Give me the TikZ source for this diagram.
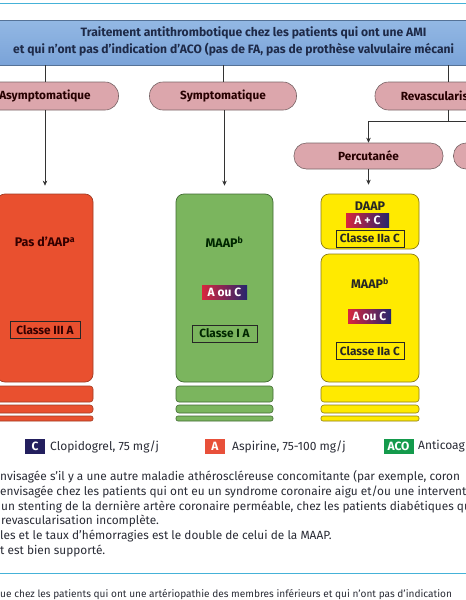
\documentclass[tikz,border=0pt]{standalone}
\usepackage{fontspec}
\setmainfont{Fira Sans}
\usetikzlibrary{arrows.meta,calc}
\definecolor{topline}{HTML}{45B2D8}
\definecolor{hdrtop}{HTML}{93B8E4}
\definecolor{hdrbot}{HTML}{7AA3D8}
\definecolor{hdrtext}{HTML}{1E2A48}
\definecolor{pillfill}{HTML}{DCA6AC}
\definecolor{pilldraw}{HTML}{7A6668}
\definecolor{redfill}{HTML}{E9502F}
\definecolor{reddraw}{HTML}{A03A22}
\definecolor{greenfill}{HTML}{7BB55E}
\definecolor{greendraw}{HTML}{416B33}
\definecolor{yellowfill}{HTML}{FFEA00}
\definecolor{yellowdraw}{HTML}{8C7C14}
\definecolor{badgered}{HTML}{D8263E}
\definecolor{badgenavy}{HTML}{26266E}
\definecolor{legnavy}{HTML}{231F5E}
\definecolor{legred}{HTML}{E8503A}
\definecolor{leggreen}{HTML}{149A4C}
\definecolor{bodytext}{HTML}{2A2C36}
\tikzset{
  hdrbox/.style={rectangle, draw=hdrbot!70!black, top color=hdrtop, bottom color=hdrbot, line width=0.6pt},
  hdrtxt/.style={font=\fontsize{12.1}{14}\selectfont\bfseries, text=hdrtext, inner sep=0pt},
  pill/.style={rectangle, rounded corners=13.5pt, draw=pilldraw, fill=pillfill, line width=0.6pt,
    minimum width=147pt, minimum height=28pt, inner sep=0pt,
    font=\fontsize{11.8}{14}\selectfont\bfseries, text=black!85!red},
  bigbox/.style={rectangle, rounded corners=8pt, line width=0.7pt, inner sep=0pt},
  barbox/.style={rectangle, rounded corners=3pt, line width=0.6pt, inner sep=0pt},
  boxtxt/.style={font=\fontsize{12.5}{14}\selectfont\bfseries, inner sep=0pt},
  classe/.style={rectangle, draw=black!85, line width=0.6pt, inner sep=0pt, minimum height=17pt,
    font=\fontsize{11.8}{13}\selectfont\bfseries},
  badge/.style={rectangle, left color=badgered, right color=badgenavy, inner sep=0pt,
    minimum height=14pt, text=white, font=\fontsize{12}{13}\selectfont\bfseries},
  legsq/.style={rectangle, inner sep=0pt, minimum height=15pt, text=white,
    font=\fontsize{12}{13}\selectfont\bfseries},
  legtxt/.style={anchor=west, inner sep=0pt, text=bodytext, font=\fontsize{12}{14}\selectfont},
  fntxt/.style={anchor=west, inner sep=0pt, text=bodytext, font=\fontsize{11.85}{14}\selectfont},
  conn/.style={draw=black!80, line width=0.6pt},
  arr/.style={conn, -{Stealth[length=5pt,width=4.5pt]}},
}
\begin{document}
\begin{tikzpicture}[x=1pt,y=-1pt]
\useasboundingbox (0,0) rectangle (466,600);
\clip (0,0) rectangle (466,600);
\fill[white] (0,0) rectangle (466,600);
% top and bottom rules
\draw[topline, line width=1pt] (0,3.5) -- (466,3.5);
\draw[topline, line width=1pt] (0,573) -- (466,573);
% header
\node[hdrbox, minimum width=560pt, minimum height=45pt] (hdr) at (250,42.5) {};
\node[hdrtxt] (hdr1) at (253.5,33) {Traitement antithrombotique chez les patients qui ont une AMI};
\node[hdrtxt, anchor=west] (hdr2) at (13,50) {et qui n’ont pas d’indication d’ACO (pas de FA, pas de prothèse valvulaire mécani};
% pills
\node[pill] (asym) at (45,96) {Asymptomatique};
\node[pill] (sympt) at (223,96) {Symptomatique};
\node[pill] (revasc) at (448.5,96) {Revascularisation};
\node[pill, minimum width=149pt, minimum height=26pt, rounded corners=12.5pt] (percu) at (368.5,156) {Percutanée};
\node[pill, minimum width=149pt, minimum height=26pt, rounded corners=12.5pt] (chir) at (528,156) {};
% connectors header -> pills
\draw[conn] (hdr.south -| asym.north) -- (asym.north);
\draw[conn] (hdr.south -| sympt.north) -- (sympt.north);
\draw[conn] (hdr.south -| revasc.north) -- (revasc.north);
% big boxes
\node[bigbox, draw=reddraw, fill=redfill, minimum width=96pt, minimum height=188pt] (rbox) at (45,288) {};
\node[bigbox, draw=greendraw, fill=greenfill, minimum width=97pt, minimum height=188pt] (gbox) at (224.5,288) {};
\node[bigbox, draw=yellowdraw, fill=yellowfill, minimum width=98pt, minimum height=55pt] (daap) at (370,221.5) {};
\node[bigbox, draw=yellowdraw, fill=yellowfill, minimum width=98pt, minimum height=128pt] (ymaap) at (370,318) {};
% arrows
\draw[arr, shorten >=8pt] (asym.south) -- (rbox.north);
\draw[arr, shorten >=8pt] (sympt.south -| gbox.north) -- (gbox.north);
\coordinate (bj) at (448.5,121);
\draw[conn] (revasc.south) -- (bj);
\draw[arr] (bj) -| (percu.north);
\draw[conn] (bj) -| (chir.north);
\draw[arr, shorten >=9pt] (percu.south) -- (percu.south |- daap.north);
% bars
\foreach \n/\dc/\fc/\x/\w in {r/reddraw/redfill/45/96, g/greendraw/greenfill/224.5/97, y/yellowdraw/yellowfill/370/98}{
  \node[barbox, draw=\dc, fill=\fc, minimum width=\w pt, minimum height=16pt] (\n bar1) at (\x,394) {};
  \node[barbox, draw=\dc, fill=\fc, minimum width=\w pt, minimum height=8pt] (\n bar2) at (\x,409) {};
  \node[barbox, draw=\dc, fill=\fc, minimum width=\w pt, minimum height=5pt, rounded corners=2pt] (\n bar3) at (\x,418.5) {};
}
% red box content
\node[boxtxt, text=black!80!red] (rtitle) at (45,242) {Pas d’AAP\textsuperscript{a}};
\node[classe, minimum width=70pt, text=black!80!red] (rclasse) at (45,330) {Classe III A};
% green box content
\node[boxtxt, text=black!85!green] (gtitle) at (224.5,242) {MAAP\textsuperscript{b}};
\node[badge, minimum width=45pt] (gbadge) at (224.5,292) {A ou C};
\node[classe, minimum width=65pt, text=black!85!green] (gclasse) at (224.5,333.5) {Classe I A};
% yellow DAAP content
\node[boxtxt, text=black!85] (dtitle) at (370,206) {DAAP};
\node[badge, minimum width=43pt] (dbadge) at (367.5,220) {A + C};
\node[classe, minimum width=68pt, text=black!85] (dclasse) at (370,238.5) {Classe IIa C};
% yellow MAAP content
\node[boxtxt, text=black!85] (ytitle) at (370,283) {MAAP\textsuperscript{b}};
\node[badge, minimum width=43pt] (ybadge) at (369.5,316) {A ou C};
\node[classe, minimum width=68pt, text=black!85] (yclasse) at (370,351) {Classe IIa C};
% legend
\node[legsq, fill=legnavy, minimum width=20pt] (lc) at (35,446.5) {C};
\node[legtxt] (lct) at (50,446.5) {Clopidogrel, 75 mg/j};
\node[legsq, fill=legred, minimum width=20pt] (la) at (215,446.5) {A};
\node[legtxt] (lat) at (232,446.5) {Aspirine, 75-100 mg/j};
\node[legsq, fill=leggreen, minimum width=30pt] (laco) at (398.5,446) {ACO};
\node[legtxt] (lacot) at (418,446.5) {Anticoag};
% footnotes
\node[fntxt] (f1) at (0,477) {nvisagée s’il y a une autre maladie athéroscléreuse concomitante (par exemple, coron};
\node[fntxt] (f2) at (0,492) {envisagée chez les patients qui ont eu un syndrome coronaire aigu et/ou une interventi};
\node[fntxt] (f3) at (1,507) {un stenting de la dernière artère coronaire perméable, chez les patients diabétiques qu};
\node[fntxt] (f4) at (1,521.5) {revascularisation incomplète.};
\node[fntxt] (f5) at (0,536.5) {les et le taux d’hémorragies est le double de celui de la MAAP.};
\node[fntxt] (f6) at (0,551.5) {t est bien supporté.};
\node[fntxt, font=\fontsize{10.1}{12}\selectfont] (f7) at (0,595) {ue chez les patients qui ont une artériopathie des membres inférieurs et qui n’ont pas d’indication};
\end{tikzpicture}
\end{document}
